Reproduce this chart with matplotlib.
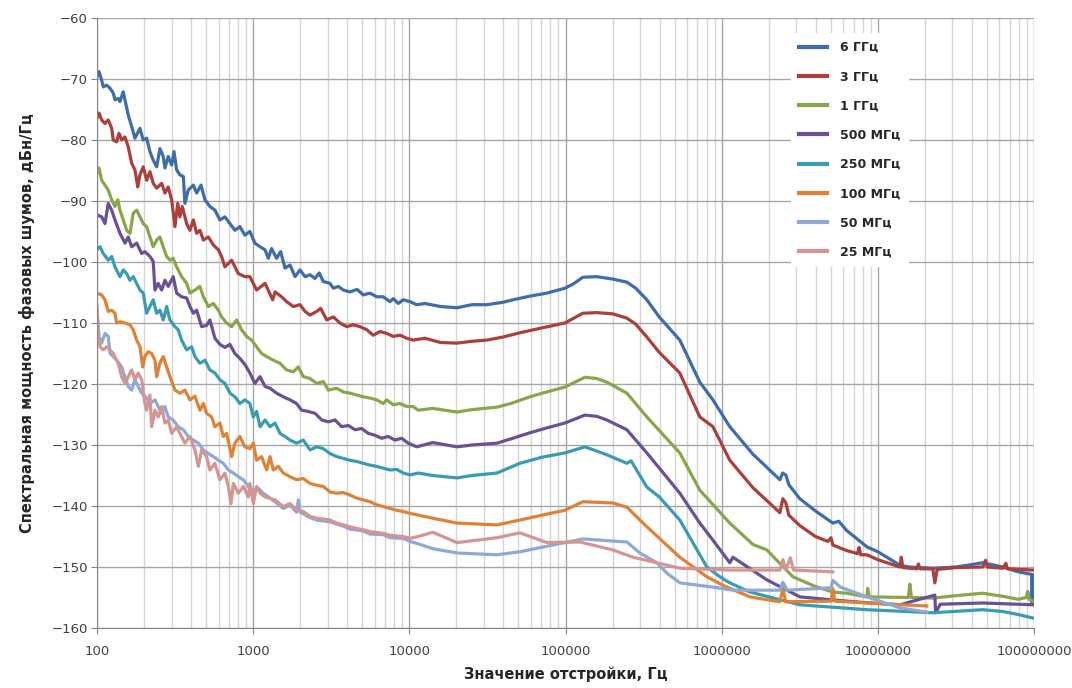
import numpy as np
import matplotlib
matplotlib.use("Agg")
import matplotlib.pyplot as plt
from matplotlib.ticker import FixedLocator, FixedFormatter, LogLocator, NullFormatter

plt.rcParams['font.family'] = ['DejaVu Sans']

labels = ["6 ГГц", "3 ГГц", "1 ГГц", "500 МГц", "250 МГц", "100 МГц", "50 МГц", "25 МГц"]
colors = ["#3E6DAA", "#AA3F3C", "#89A64C", "#6B5096", "#3B9BB2", "#E08236", "#8EA9D5", "#D49593"]

# log10(frequency, Hz) and phase-noise values (dBc/Hz)
lf_6g = [2.000, 2.013, 2.030, 2.040, 2.062, 2.083, 2.104, 2.115, 2.136, 2.147, 2.168, 2.184, 2.200, 2.222,
         2.243, 2.275, 2.296, 2.318, 2.339, 2.360, 2.382, 2.403, 2.424, 2.435, 2.456, 2.478, 2.493, 2.510,
         2.531, 2.553, 2.563, 2.584, 2.617, 2.638, 2.666, 2.691, 2.723, 2.755, 2.787, 2.819, 2.851, 2.883,
         2.915, 2.947, 2.979, 3.011, 3.044, 3.076, 3.097, 3.118, 3.150, 3.176, 3.204, 3.236, 3.268, 3.300,
         3.332, 3.364, 3.396, 3.423, 3.449, 3.492, 3.513, 3.545, 3.577, 3.620, 3.666, 3.705, 3.748, 3.791,
         3.833, 3.876, 3.897, 3.929, 3.961, 4.004, 4.047, 4.100, 4.200, 4.305, 4.400, 4.497, 4.600, 4.663,
         4.772, 4.881, 4.996, 5.050, 5.111, 5.200, 5.303, 5.393, 5.450, 5.521, 5.600, 5.732, 5.860, 5.944,
         6.052, 6.200, 6.373, 6.390, 6.411, 6.430, 6.500, 6.600, 6.712, 6.750, 6.800, 6.930, 7.000, 7.141,
         7.200, 7.352, 7.500, 7.600, 7.672, 7.800, 7.900, 7.985, 7.988, 7.991, 8.000]
v_6g = [-69.6, -68.8, -70.2, -71.3, -71.0, -71.5, -72.3, -73.4, -73.2, -73.7, -72.1, -74.0, -75.9, -77.8,
        -79.7, -78.1, -80.0, -79.7, -81.9, -83.3, -84.4, -81.4, -82.7, -84.6, -82.7, -84.1, -81.9, -84.9,
        -85.7, -86.0, -90.4, -88.2, -87.4, -88.7, -87.4, -89.8, -90.9, -91.5, -93.1, -92.6, -93.7, -94.8,
        -94.2, -95.6, -95.0, -96.9, -97.5, -98.0, -99.4, -97.8, -99.4, -98.3, -101.0, -100.5, -102.4, -101.3,
        -102.4, -102.1, -102.7, -101.8, -103.2, -103.5, -104.3, -104.0, -104.6, -104.9, -104.5, -105.4, -105.1, -105.7,
        -105.7, -106.5, -106.0, -106.8, -106.2, -106.5, -107.0, -106.8, -107.3, -107.5, -107.0, -107.0, -106.6, -106.2,
        -105.6, -105.1, -104.3, -103.6, -102.5, -102.4, -102.8, -103.3, -104.3, -106.2, -109.0, -112.8, -119.7, -122.6,
        -127.0, -131.5, -135.7, -134.6, -134.9, -136.5, -138.8, -140.8, -142.8, -142.5, -144.0, -146.7, -147.5, -149.7,
        -150.0, -150.2, -150.0, -149.6, -149.3, -150.0, -150.8, -151.2, -156.0, -151.3, -151.3]

lf_3g = [2.000, 2.013, 2.030, 2.051, 2.072, 2.094, 2.104, 2.126, 2.141, 2.158, 2.179, 2.200, 2.222, 2.243,
         2.261, 2.275, 2.296, 2.318, 2.339, 2.360, 2.382, 2.414, 2.435, 2.456, 2.478, 2.499, 2.517, 2.531,
         2.546, 2.574, 2.595, 2.617, 2.638, 2.659, 2.681, 2.713, 2.745, 2.777, 2.798, 2.819, 2.862, 2.905,
         2.947, 2.979, 3.022, 3.076, 3.125, 3.140, 3.182, 3.214, 3.257, 3.300, 3.332, 3.364, 3.407, 3.432,
         3.471, 3.513, 3.556, 3.599, 3.641, 3.684, 3.727, 3.769, 3.812, 3.855, 3.897, 3.940, 3.983, 4.025,
         4.100, 4.200, 4.305, 4.400, 4.497, 4.600, 4.708, 4.850, 4.996, 5.111, 5.200, 5.303, 5.393, 5.450,
         5.521, 5.600, 5.732, 5.860, 5.944, 6.052, 6.200, 6.373, 6.392, 6.411, 6.430, 6.500, 6.600, 6.680,
         6.700, 6.712, 6.800, 6.870, 6.880, 6.890, 6.930, 7.000, 7.141, 7.150, 7.160, 7.250, 7.260, 7.270,
         7.352, 7.365, 7.380, 7.500, 7.672, 7.690, 7.700, 7.800, 7.820, 7.830, 7.990, 8.000]
v_3g = [-76.4, -75.6, -76.7, -77.3, -76.7, -78.1, -80.0, -80.3, -78.9, -80.0, -79.5, -81.1, -83.8, -84.9,
        -87.7, -85.7, -84.4, -86.6, -85.2, -87.1, -87.9, -87.1, -88.7, -87.7, -89.8, -94.2, -90.4, -92.6,
        -90.9, -93.7, -94.8, -93.1, -95.3, -94.8, -96.4, -95.9, -97.2, -98.0, -99.1, -100.8, -99.7, -101.9,
        -102.4, -102.4, -104.6, -103.5, -106.2, -104.9, -105.7, -106.5, -107.3, -107.0, -108.1, -108.7, -108.1, -107.6,
        -109.5, -109.0, -110.0, -110.6, -110.3, -110.6, -111.1, -112.0, -111.4, -111.7, -112.2, -112.0, -112.5, -112.8,
        -112.5, -113.2, -113.3, -113.0, -112.8, -112.3, -111.6, -110.8, -110.0, -108.4, -108.3, -108.5, -109.2, -110.2,
        -112.3, -114.8, -118.2, -125.4, -127.0, -132.5, -137.0, -141.1, -138.8, -139.5, -141.5, -143.2, -145.0, -145.8,
        -145.2, -146.4, -147.3, -147.8, -146.8, -148.0, -148.0, -148.8, -150.0, -148.4, -150.1, -150.3, -149.5, -150.3,
        -150.3, -152.6, -150.4, -150.1, -150.0, -148.9, -150.0, -150.2, -149.4, -150.3, -150.5, -150.5]

lf_1g = [2.000, 2.013, 2.030, 2.051, 2.072, 2.094, 2.115, 2.133, 2.147, 2.168, 2.190, 2.211, 2.232, 2.254,
         2.275, 2.296, 2.318, 2.339, 2.360, 2.382, 2.403, 2.424, 2.446, 2.467, 2.488, 2.510, 2.542, 2.574,
         2.595, 2.627, 2.659, 2.681, 2.713, 2.745, 2.777, 2.798, 2.830, 2.862, 2.894, 2.926, 2.958, 2.990,
         3.022, 3.054, 3.086, 3.129, 3.172, 3.214, 3.257, 3.289, 3.321, 3.364, 3.407, 3.449, 3.481, 3.535,
         3.577, 3.620, 3.663, 3.705, 3.748, 3.791, 3.833, 3.855, 3.897, 3.940, 3.983, 4.025, 4.057, 4.150,
         4.305, 4.400, 4.561, 4.650, 4.772, 4.880, 4.996, 5.124, 5.200, 5.265, 5.393, 5.521, 5.732, 5.860,
         6.052, 6.200, 6.289, 6.456, 6.600, 6.712, 6.800, 6.930, 6.935, 6.945, 7.195, 7.205, 7.215, 7.352,
         7.500, 7.672, 7.800, 7.900, 7.950, 7.960, 7.970, 8.000]
v_1g = [-85.5, -84.6, -86.6, -87.4, -88.2, -89.8, -90.9, -89.8, -91.5, -93.1, -94.8, -95.3, -92.0, -91.5,
        -92.6, -93.7, -94.2, -95.9, -97.5, -96.4, -95.9, -97.5, -99.1, -99.7, -99.4, -100.8, -102.4, -103.5,
        -105.1, -104.6, -104.0, -105.7, -107.3, -106.8, -107.9, -109.0, -110.0, -110.6, -109.5, -111.1, -112.2, -112.8,
        -113.9, -115.0, -115.5, -116.1, -116.6, -117.7, -118.0, -117.2, -118.8, -119.1, -119.9, -119.6, -121.0, -120.7,
        -121.3, -121.5, -121.8, -122.1, -122.3, -122.6, -123.2, -122.6, -123.4, -123.2, -123.7, -123.7, -124.3, -124.0,
        -124.6, -124.2, -123.8, -123.2, -122.1, -121.3, -120.5, -118.9, -119.1, -119.7, -121.5, -125.4, -131.3, -137.4,
        -142.8, -146.3, -147.2, -151.6, -153.2, -154.1, -154.3, -154.9, -153.5, -154.9, -155.0, -152.8, -155.0, -155.1,
        -154.7, -154.3, -154.8, -155.3, -155.0, -154.0, -155.3, -155.7]

lf_500m = [2.000, 2.030, 2.051, 2.072, 2.094, 2.115, 2.147, 2.179, 2.200, 2.222, 2.254, 2.286, 2.307, 2.339,
           2.360, 2.371, 2.392, 2.414, 2.435, 2.456, 2.488, 2.510, 2.542, 2.574, 2.595, 2.617, 2.638, 2.670,
           2.702, 2.723, 2.755, 2.787, 2.819, 2.851, 2.883, 2.915, 2.947, 2.979, 3.011, 3.044, 3.076, 3.108,
           3.150, 3.193, 3.236, 3.278, 3.310, 3.353, 3.396, 3.439, 3.481, 3.524, 3.567, 3.609, 3.652, 3.695,
           3.737, 3.780, 3.823, 3.865, 3.908, 3.951, 3.993, 4.047, 4.150, 4.305, 4.400, 4.561, 4.650, 4.772,
           4.880, 4.996, 5.124, 5.200, 5.265, 5.393, 5.521, 5.732, 5.860, 5.944, 6.052, 6.072, 6.289, 6.501,
           6.712, 6.900, 7.141, 7.365, 7.370, 7.400, 7.672, 8.000]
v_500m = [-92.3, -92.6, -93.7, -90.4, -91.5, -93.1, -95.3, -96.9, -95.9, -97.5, -96.9, -98.6, -98.3, -99.1,
          -99.9, -104.6, -103.5, -104.6, -103.0, -104.0, -102.4, -105.1, -105.7, -105.9, -107.3, -108.4, -107.9, -110.6,
          -110.4, -109.5, -112.5, -113.5, -114.0, -113.5, -115.0, -115.8, -116.8, -118.2, -119.9, -118.8, -120.4, -120.7,
          -121.5, -122.1, -122.6, -123.2, -124.3, -124.5, -124.8, -125.9, -126.2, -125.9, -127.0, -126.8, -127.5, -127.3,
          -128.1, -128.4, -128.9, -128.6, -129.2, -128.9, -129.7, -130.3, -129.6, -130.3, -130.0, -129.7, -129.0, -128.0,
          -127.2, -126.4, -125.1, -125.3, -125.9, -127.5, -131.3, -137.9, -142.8, -145.6, -149.3, -148.4, -152.1, -154.9,
          -155.4, -155.8, -156.2, -154.6, -157.5, -156.1, -155.9, -156.2]

lf_250m = [2.000, 2.019, 2.040, 2.072, 2.094, 2.115, 2.147, 2.168, 2.190, 2.211, 2.232, 2.254, 2.275, 2.296,
           2.318, 2.339, 2.360, 2.382, 2.403, 2.424, 2.446, 2.467, 2.499, 2.520, 2.542, 2.574, 2.606, 2.627,
           2.659, 2.691, 2.723, 2.755, 2.787, 2.819, 2.851, 2.883, 2.915, 2.947, 2.979, 3.001, 3.022, 3.044,
           3.076, 3.108, 3.140, 3.172, 3.204, 3.236, 3.278, 3.321, 3.364, 3.407, 3.449, 3.492, 3.535, 3.577,
           3.620, 3.663, 3.705, 3.748, 3.791, 3.833, 3.876, 3.919, 3.961, 4.004, 4.057, 4.150, 4.305, 4.400,
           4.561, 4.708, 4.850, 4.996, 5.124, 5.265, 5.393, 5.420, 5.521, 5.600, 5.732, 5.905, 5.988, 6.052,
           6.181, 6.501, 6.930, 7.352, 7.672, 7.800, 7.900, 8.000]
v_250m = [-98.0, -97.5, -98.6, -99.7, -99.1, -100.8, -102.4, -101.3, -101.9, -103.0, -102.4, -103.5, -104.6, -105.1,
          -108.4, -107.3, -106.2, -108.4, -107.9, -109.5, -107.3, -109.5, -110.6, -111.1, -112.8, -114.4, -113.9, -115.5,
          -116.6, -116.1, -117.7, -118.2, -119.3, -119.9, -121.5, -122.1, -123.2, -122.6, -123.2, -125.4, -124.5, -127.0,
          -125.9, -127.0, -126.4, -128.1, -128.6, -129.2, -129.7, -129.2, -130.8, -130.3, -130.6, -131.4, -131.9, -132.2,
          -132.5, -132.7, -133.0, -133.3, -133.5, -133.8, -134.1, -134.0, -134.6, -134.9, -134.6, -135.0, -135.4, -135.0,
          -134.6, -133.0, -132.0, -131.3, -130.3, -131.6, -133.0, -132.6, -136.9, -138.5, -142.3, -150.0, -151.6, -152.6,
          -154.1, -156.2, -157.0, -157.5, -157.0, -157.3, -157.8, -158.4]

lf_100m = [2.000, 2.030, 2.051, 2.072, 2.094, 2.115, 2.126, 2.147, 2.179, 2.211, 2.232, 2.254, 2.275, 2.293,
           2.307, 2.328, 2.350, 2.371, 2.382, 2.403, 2.424, 2.446, 2.467, 2.499, 2.531, 2.563, 2.595, 2.627,
           2.659, 2.681, 2.702, 2.734, 2.755, 2.787, 2.809, 2.830, 2.862, 2.883, 2.915, 2.947, 2.979, 3.001,
           3.022, 3.054, 3.086, 3.108, 3.129, 3.161, 3.193, 3.236, 3.278, 3.321, 3.364, 3.407, 3.449, 3.492,
           3.535, 3.577, 3.620, 3.663, 3.705, 3.748, 3.791, 3.833, 3.876, 3.919, 3.961, 4.004, 4.057, 4.150,
           4.305, 4.561, 4.708, 4.850, 4.996, 5.111, 5.303, 5.393, 5.521, 5.732, 5.905, 6.008, 6.181, 6.373,
           6.392, 6.410, 6.700, 6.712, 6.725, 6.930, 7.314]
v_100m = [-105.1, -105.4, -106.2, -108.1, -107.9, -108.4, -110.0, -109.8, -110.0, -110.3, -111.1, -112.8, -113.9, -117.2,
          -115.5, -114.7, -115.0, -116.1, -118.8, -116.6, -115.5, -117.2, -118.8, -121.0, -121.5, -121.0, -122.6, -122.0,
          -124.3, -123.2, -124.8, -125.4, -127.0, -126.4, -128.6, -128.1, -131.9, -129.7, -128.6, -130.3, -130.6, -129.7,
          -132.5, -131.9, -134.1, -131.9, -134.1, -133.5, -134.6, -135.2, -135.7, -135.5, -136.3, -136.6, -136.8, -137.7,
          -137.9, -137.8, -138.2, -138.7, -139.0, -139.3, -139.8, -140.1, -140.4, -140.7, -140.9, -141.2, -141.5, -142.0,
          -142.8, -143.1, -142.3, -141.5, -140.7, -139.3, -139.5, -140.2, -143.4, -148.4, -151.6, -153.0, -154.9, -155.7,
          -153.5, -155.7, -155.6, -153.5, -155.6, -155.9, -156.4]

lf_50m = [2.000, 2.013, 2.030, 2.051, 2.072, 2.083, 2.104, 2.126, 2.158, 2.179, 2.200, 2.222, 2.243, 2.264,
          2.286, 2.318, 2.339, 2.371, 2.392, 2.414, 2.435, 2.456, 2.488, 2.520, 2.553, 2.584, 2.617, 2.649,
          2.681, 2.713, 2.745, 2.777, 2.809, 2.841, 2.873, 2.905, 2.937, 2.969, 3.001, 3.033, 3.065, 3.140,
          3.193, 3.236, 3.278, 3.289, 3.300, 3.364, 3.407, 3.492, 3.577, 3.620, 3.705, 3.748, 3.833, 3.876,
          3.961, 4.004, 4.057, 4.150, 4.305, 4.561, 4.708, 4.996, 5.111, 5.393, 5.476, 5.585, 5.649, 5.732,
          5.944, 6.072, 6.373, 6.392, 6.420, 6.700, 6.712, 6.760, 6.930, 7.141, 7.314]
v_50m = [-107.9, -112.2, -113.3, -111.7, -112.2, -115.0, -115.5, -116.1, -117.2, -118.8, -120.4, -121.0, -119.3, -120.4,
         -121.5, -122.3, -123.2, -122.6, -123.7, -124.8, -123.7, -125.4, -125.9, -127.0, -127.5, -128.6, -129.2, -129.7,
         -130.8, -131.4, -131.9, -132.5, -133.0, -134.1, -134.6, -135.2, -135.7, -136.8, -137.4, -137.1, -137.9, -139.3,
         -140.4, -139.9, -141.0, -139.0, -141.0, -141.9, -142.3, -142.6, -143.3, -143.8, -144.1, -144.6, -144.7, -145.2,
         -145.3, -145.8, -146.2, -147.0, -147.7, -148.0, -147.5, -146.0, -145.4, -145.9, -147.7, -149.3, -151.0, -152.6,
         -153.3, -153.8, -153.8, -152.5, -153.8, -153.4, -152.2, -153.3, -154.9, -156.7, -157.4]

lf_25m = [2.000, 2.008, 2.019, 2.040, 2.062, 2.083, 2.104, 2.136, 2.158, 2.179, 2.200, 2.222, 2.243, 2.264,
          2.286, 2.307, 2.318, 2.339, 2.350, 2.371, 2.392, 2.414, 2.435, 2.456, 2.478, 2.510, 2.531, 2.563,
          2.595, 2.627, 2.649, 2.670, 2.702, 2.723, 2.755, 2.787, 2.819, 2.841, 2.858, 2.873, 2.905, 2.937,
          2.969, 2.979, 3.001, 3.022, 3.044, 3.076, 3.140, 3.193, 3.236, 3.278, 3.321, 3.364, 3.407, 3.492,
          3.535, 3.577, 3.620, 3.663, 3.705, 3.748, 3.833, 3.876, 3.961, 4.004, 4.057, 4.151, 4.305, 4.561,
          4.708, 4.881, 5.092, 5.303, 5.432, 5.585, 5.732, 6.052, 6.373, 6.392, 6.411, 6.440, 6.460, 6.712]
v_25m = [-107.3, -112.2, -113.9, -114.4, -113.9, -114.4, -115.0, -116.6, -118.8, -119.9, -118.8, -117.7, -119.3, -118.2,
         -119.3, -123.2, -124.3, -121.8, -127.0, -124.3, -125.4, -123.7, -126.4, -125.9, -128.1, -127.0, -128.1, -129.7,
         -128.6, -130.8, -133.5, -130.8, -131.9, -134.1, -133.0, -135.7, -134.6, -136.8, -139.6, -136.3, -137.9, -136.8,
         -138.5, -136.3, -139.6, -136.8, -137.9, -138.5, -139.0, -140.1, -139.6, -140.7, -140.9, -141.7, -142.0, -142.3,
         -142.8, -143.1, -143.4, -143.7, -143.9, -144.2, -144.5, -144.8, -145.0, -145.3, -145.0, -144.3, -146.0, -145.2,
         -144.4, -146.0, -145.9, -147.2, -148.4, -149.3, -150.2, -150.5, -150.5, -148.8, -150.4, -148.5, -150.5, -150.8]

series = [(lf_6g, v_6g), (lf_3g, v_3g), (lf_1g, v_1g), (lf_500m, v_500m),
          (lf_250m, v_250m), (lf_100m, v_100m), (lf_50m, v_50m), (lf_25m, v_25m)]

x_ticks = [100, 1000, 10000, 100000, 1000000, 10000000, 100000000]
x_ticklabels = ["100", "1000", "10000", "100000", "1000000", "10000000", "100000000"]
y_ticks = list(range(-160, -59, 10))

W, H = 1072, 688
fig = plt.figure(figsize=(W / 100, H / 100), dpi=100)
ax = fig.add_axes([97 / W, (H - 628) / H, 937 / W, 610 / H])

for (lf, v), c, lab in zip(series, colors, labels):
    ax.plot(10 ** np.array(lf), v, color=c, lw=2.3, label=lab, solid_joinstyle='round')

ax.set_xscale('log')
ax.set_xlim(100, 1e8)
ax.set_ylim(-160, -60)
ax.xaxis.set_major_locator(FixedLocator(x_ticks))
ax.xaxis.set_major_formatter(FixedFormatter(x_ticklabels))
ax.xaxis.set_minor_locator(LogLocator(base=10, subs=np.arange(2, 10)))
ax.xaxis.set_minor_formatter(NullFormatter())
ax.set_yticks(y_ticks)

ax.grid(which='major', axis='both', color='#A6A6A6', lw=1.0)
ax.grid(which='minor', axis='x', color='#D4D4D4', lw=1.0)
ax.set_axisbelow(True)
for s in ['top', 'right']:
    ax.spines[s].set_visible(False)
for s in ['left', 'bottom']:
    ax.spines[s].set_color('#868686')
ax.tick_params(axis='both', which='major', length=4, color='#868686', labelsize=9.5, labelcolor='#404040')
ax.tick_params(axis='y', pad=2.5)
ax.tick_params(axis='x', which='minor', length=0)
ax.tick_params(axis='x', pad=8)

ax.set_xlabel("Значение отстройки, Гц", fontsize=10.5, fontweight='bold', color='#262626', labelpad=6)
ax.set_ylabel("Спектральная мощность фазовых шумов, дБн/Гц", fontsize=10.5, fontweight='bold',
              color='#262626', labelpad=12)

leg = ax.legend(loc='upper left', bbox_to_anchor=(0.734, 0.985), frameon=True, fancybox=False,
                edgecolor='white', facecolor='white', framealpha=1.0, fontsize=9,
                labelspacing=1.3, handlelength=2.3, handletextpad=1.0, borderpad=0.6)
for t in leg.get_texts():
    t.set_fontweight('bold')
    t.set_color('#262626')
for h in leg.get_lines():
    h.set_linewidth(3)

fig.savefig("out.png", dpi=100)
